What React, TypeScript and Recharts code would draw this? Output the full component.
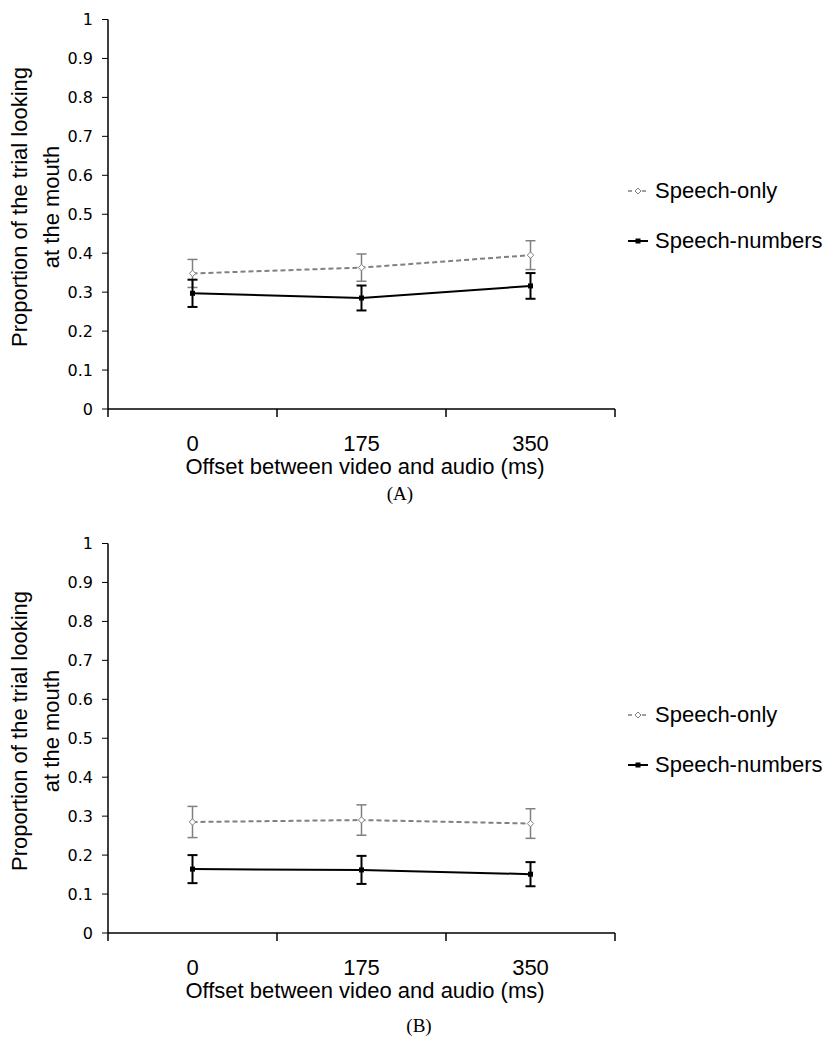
import React from "react"
import { LineChart, Line, XAxis, YAxis, ErrorBar } from "recharts"

const offsets = ["0", "175", "350"]
const yTicks = [0, 0.1, 0.2, 0.3, 0.4, 0.5, 0.6, 0.7, 0.8, 0.9, 1]

// panel A
const speechOnlyA = [0.348, 0.363, 0.395]
const speechOnlyErrA = [0.036, 0.035, 0.037]
const speechNumbersA = [0.297, 0.285, 0.316]
const speechNumbersErrA = [0.035, 0.032, 0.033]

// panel B
const speechOnlyB = [0.285, 0.290, 0.281]
const speechOnlyErrB = [0.040, 0.039, 0.038]
const speechNumbersB = [0.164, 0.162, 0.151]
const speechNumbersErrB = [0.036, 0.036, 0.031]

const W = 831
const PANEL_H = 524
const PLOT_LEFT = 108
const PLOT_RIGHT = 615
const BAND = (PLOT_RIGHT - PLOT_LEFT) / offsets.length
const SANS = "'Liberation Sans', Arial, sans-serif"
const GRAY = "#808080"

const Diamond = (props: any) => {
  const { cx, cy, index } = props
  if (cx == null || cy == null) return null
  const r = 3.2
  return (
    <polygon
      key={`d-${index}`}
      points={`${cx},${cy - r} ${cx + r},${cy} ${cx},${cy + r} ${cx - r},${cy}`}
      fill="#fff"
      stroke={GRAY}
      strokeWidth={1}
    />
  )
}

const Square = (props: any) => {
  const { cx, cy, index } = props
  if (cx == null || cy == null) return null
  return <rect key={`s-${index}`} x={cx - 2.5} y={cy - 2.5} width={5} height={5} fill="#000" />
}

const OffsetTick = (props: any) => {
  const { x, y, payload } = props
  const label = offsets[payload.value]
  if (label == null) return null
  return (
    <text x={x + BAND / 2} y={y} dy={32} textAnchor="middle" fontSize={22} fontFamily={SANS} fill="#000">
      {label}
    </text>
  )
}

function Panel({ top, only, onlyErr, numbers, numbersErr, caption, captionX, captionY }: any) {
  const data = offsets.map((o, i) => ({
    pos: i + 0.5,
    offset: o,
    only: only[i],
    onlyErr: onlyErr[i],
    numbers: numbers[i],
    numbersErr: numbersErr[i],
  }))

  return (
    <div style={{ position: "absolute", left: 0, top, width: W, height: PANEL_H }}>
      <LineChart
        width={W}
        height={PANEL_H}
        data={data}
        margin={{ top: 19.5, left: 48, right: W - PLOT_RIGHT, bottom: 55 }}
      >
        <XAxis
          dataKey="pos"
          type="number"
          domain={[0, offsets.length]}
          ticks={[0, 1, 2, 3]}
          height={60}
          axisLine={{ stroke: "#000", strokeWidth: 1.5 }}
          tickLine={{ stroke: "#000", strokeWidth: 1.5 }}
          tickSize={8}
          tick={<OffsetTick />}
          interval={0}
        />
        <YAxis
          type="number"
          domain={[0, 1]}
          ticks={yTicks}
          width={60}
          interval={0}
          axisLine={{ stroke: "#000", strokeWidth: 1.5 }}
          tickLine={{ stroke: "#000", strokeWidth: 1 }}
          tickSize={6}
          tickMargin={9}
          tick={{ fill: "#000", fontSize: 16, fontFamily: "'DejaVu Sans', sans-serif" }}
        />
        <Line
          dataKey="only"
          stroke={GRAY}
          strokeWidth={2}
          strokeDasharray="5 3"
          dot={Diamond}
          activeDot={false}
          isAnimationActive={false}
        >
          <ErrorBar dataKey="onlyErr" direction="y" width={5} stroke={GRAY} strokeWidth={1.5} />
        </Line>
        <Line
          dataKey="numbers"
          stroke="#000"
          strokeWidth={2}
          dot={Square}
          activeDot={false}
          isAnimationActive={false}
        >
          <ErrorBar dataKey="numbersErr" direction="y" width={5} stroke="#000" strokeWidth={2} />
        </Line>
      </LineChart>
      <svg
        width={W}
        height={PANEL_H}
        style={{ position: "absolute", left: 0, top: 0, pointerEvents: "none" }}
      >
        <g fontFamily={SANS} fontSize={22} fill="#000">
          <text transform="translate(26.5, 207) rotate(-90)" textAnchor="middle">
            Proportion of the trial looking
          </text>
          <text transform="translate(59, 207) rotate(-90)" textAnchor="middle">
            at the mouth
          </text>
          <text x={365} y={474} textAnchor="middle">
            Offset between video and audio (ms)
          </text>
          <line x1={628} x2={648} y1={191} y2={191} stroke={GRAY} strokeWidth={1.5} strokeDasharray="4 3" />
          <polygon points="638,188 641,191 638,194 635,191" fill="#fff" stroke={GRAY} strokeWidth={1} />
          <text x={655} y={198}>Speech-only</text>
          <line x1={628} x2={648} y1={241} y2={241} stroke="#000" strokeWidth={2} />
          <rect x={635.5} y={238.5} width={5} height={5} fill="#000" />
          <text x={655} y={248}>Speech-numbers</text>
        </g>
        <text
          x={captionX}
          y={captionY}
          textAnchor="middle"
          fontFamily="'Liberation Serif', 'Times New Roman', serif"
          fontSize={19}
          fill="#000"
        >
          {caption}
        </text>
      </svg>
    </div>
  )
}

export default function App() {
  return (
    <div style={{ position: "absolute", left: 0, top: 0, width: W, height: 1038, background: "#fff" }}>
      <Panel
        top={0}
        only={speechOnlyA}
        onlyErr={speechOnlyErrA}
        numbers={speechNumbersA}
        numbersErr={speechNumbersErrA}
        caption="(A)"
        captionX={400}
        captionY={500}
      />
      <Panel
        top={PANEL_H}
        only={speechOnlyB}
        onlyErr={speechOnlyErrB}
        numbers={speechNumbersB}
        numbersErr={speechNumbersErrB}
        caption="(B)"
        captionX={419}
        captionY={508}
      />
    </div>
  )
}
